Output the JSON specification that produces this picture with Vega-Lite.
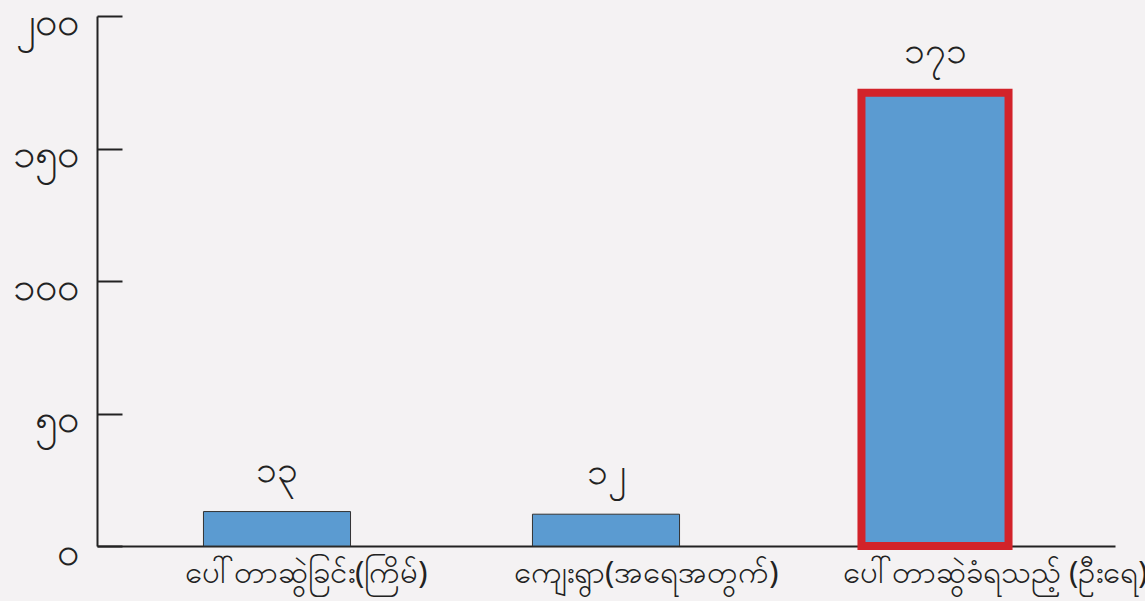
{
  "$schema": "https://vega.github.io/schema/vega-lite/v6.json",
  "width": 1018,
  "height": 530,
  "autosize": {"type": "none"},
  "padding": {"left": 97, "top": 16, "right": 30, "bottom": 55},
  "background": "#f4f2f3",
  "config": {"view": {"stroke": null}, "font": "Noto Sans"},
  "data": {"values": [
    {"cat": "ပေါ်တာဆွဲခြင်း(ကြိမ်)", "value": 13, "label": "၁၃", "hl": false},
    {"cat": "ကျေးရွာ(အရေအတွက်)", "value": 12, "label": "၁၂", "hl": false},
    {"cat": "ပေါ်တာဆွဲခံရသည့် (ဦးရေ)", "value": 171, "label": "၁၇၁", "hl": true}
  ]},
  "encoding": {
    "x": {"field": "cat", "type": "nominal", "sort": null,
      "scale": {"paddingInner": 0.553, "paddingOuter": 0.3236},
      "axis": {"title": null, "labelAngle": 0, "ticks": false, "domainColor": "#222", "domainWidth": 2, "labelFontSize": 31, "labelColor": "#222", "labelPadding": 12, "labelLimit": 400, "labelAlign": "left", "labelOffset": -92}},
    "y": {"field": "value", "type": "quantitative",
      "scale": {"domain": [0, 200], "nice": false},
      "axis": {"title": null, "grid": false, "values": [0, 50, 100, 150, 200],
        "labelExpr": "datum.value == 0 ? '၀' : datum.value == 50 ? '၅၀' : datum.value == 100 ? '၁၀၀' : datum.value == 150 ? '၁၅၀' : '၂၀၀'",
        "tickSize": -25, "tickWidth": 2, "tickColor": "#222", "domainColor": "#222", "domainWidth": 2,
        "labelFontSize": 40, "labelColor": "#222", "labelPadding": 44, "labelOffset": 6}}
  },
  "layer": [
    {"mark": {"type": "bar", "color": "#5b9bd1"},
      "encoding": {
        "stroke": {"condition": {"test": "datum.hl", "value": "#d2232a"}, "value": "#333333"},
        "strokeWidth": {"condition": {"test": "datum.hl", "value": 8}, "value": 1}
      }},
    {"mark": {"type": "text", "baseline": "bottom", "dy": -22, "fontSize": 37, "color": "#222"},
      "encoding": {"text": {"field": "label"}}}
  ]
}
